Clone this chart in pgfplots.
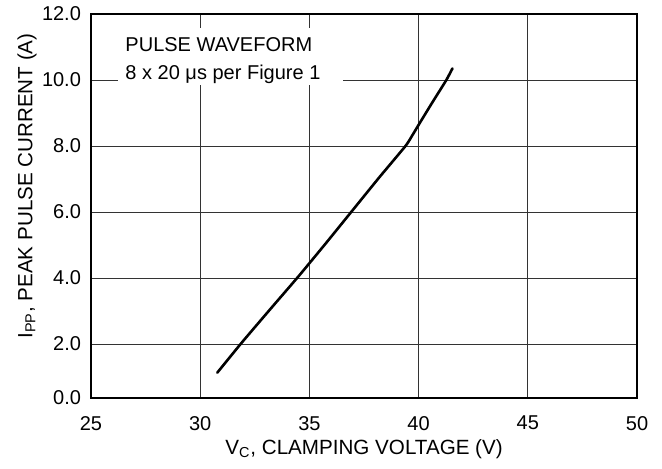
\documentclass[border=0pt]{standalone}
\usepackage{fontspec}
\setmainfont{Liberation Sans}
\usepackage{pgfplots}
\pgfplotsset{compat=1.18}
\begin{document}
\fontsize{10}{12}\selectfont
\begin{tikzpicture}
\useasboundingbox (-45.5pt,-35pt) rectangle (285.5pt,199pt);
\begin{axis}[
  at={(0,0)}, anchor=south west, scale only axis,
  width=273pt, height=192pt,
  xmin=25, xmax=50, ymin=0.3636, ymax=12,
  xtick={25,30,...,50},
  ytick={0.3636,2,4,6,8,10,12},
  yticklabels={0.0,2.0,4.0,6.0,8.0,10.0,12.0},
  /pgf/number format/assume math mode=true,
  tick label style={font=\fontsize{10}{12}\selectfont},
  xticklabel style={anchor=north, yshift=-5.5pt},
  yticklabel style={xshift=-1.5pt},
  grid=major,
  major grid style={black!80, line width=0.5pt},
  major tick length=0pt,
  axis line style={line width=0.6pt},
  xlabel={V\textsubscript{C}, CLAMPING VOLTAGE (V)},
  ylabel={I\textsubscript{PP}, PEAK PULSE CURRENT (A)},
  label style={font=\fontsize{10.3}{12}\selectfont},
  xlabel style={at={(rel axis cs:0.5,0)}, anchor=center, yshift=-25.5pt},
  ylabel style={at={(rel axis cs:0,0.5)}, anchor=center, rotate=0, yshift=32pt, xshift=10pt},
]
\fill[white] (axis cs:26.24,9.85) rectangle (axis cs:36.53,11.58);
\node[anchor=base west, inner sep=0pt] at (axis cs:26.56,10.85) {PULSE WAVEFORM};
\node[anchor=base west, inner sep=0pt] at (axis cs:26.56,10.03) {8 x 20 μs per Figure 1};
\addplot[black, line width=1.3pt, smooth, tension=0.3, line cap=round] coordinates {
(30.78,1.13)
(31.9,2.04)
(33.2,3.05)
(34.5,4.05)
(35.75,5.05)
(36.95,6.03)
(38.2,7.05)
(39.4,8.0)
(39.7,8.31)
(40.0,8.64)
(40.6,9.29)
(41.27,10.0)
(41.55,10.35)
};
\end{axis}
\draw[line width=1.1pt] (current axis.north west) -- (current axis.south west) -- (current axis.south east);
\end{tikzpicture}
\end{document}
